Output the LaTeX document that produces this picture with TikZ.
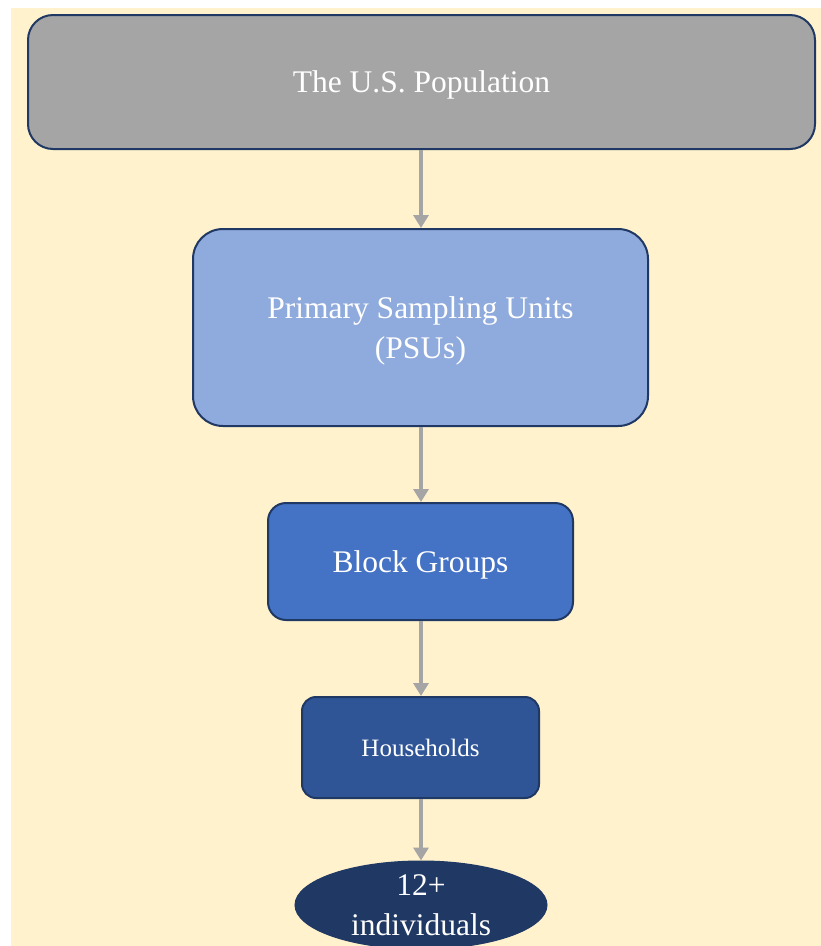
\documentclass[tikz,border=0pt]{standalone}
\usepackage{fontspec}
\setmainfont{Liberation Serif}
\usetikzlibrary{shapes.geometric,arrows.meta}
\definecolor{bgcream}{HTML}{FFF2CC}
\definecolor{navyline}{HTML}{1F3864}
\definecolor{graybox}{HTML}{A5A5A5}
\definecolor{psufill}{HTML}{8FAADC}
\definecolor{blockfill}{HTML}{4472C4}
\definecolor{housefill}{HTML}{2F5597}
\definecolor{indfill}{HTML}{203864}
\definecolor{arrowgray}{HTML}{A5A5A5}
\tikzset{
  boxstyle/.style={draw=navyline, line width=2pt, text=white, align=center,
    font=\fontsize{31.5}{40}\selectfont, inner sep=0pt},
  flowarrow/.style={draw=arrowgray, line width=4pt, -{Triangle[width=15pt,length=13pt]}}
}
\begin{document}
\begin{tikzpicture}[x=1pt,y=-1pt]
\useasboundingbox (0,0) rectangle (821,946);
\fill[bgcream] (11,8) rectangle (821,946);
\node[boxstyle, fill=graybox, rounded corners=25pt, minimum width=787pt, minimum height=134pt, text depth=-6pt] (pop) at (421.5,82) {The U.S. Population};
\node[boxstyle, fill=psufill, rounded corners=30pt, minimum width=455pt, minimum height=197pt, text depth=-6pt] (psu) at (420.5,327.5) {Primary Sampling Units\\(PSUs)};
\node[boxstyle, fill=blockfill, rounded corners=18pt, minimum width=305pt, minimum height=117pt, text depth=-6pt] (block) at (420.5,561.5) {Block Groups};
\node[boxstyle, fill=housefill, rounded corners=14pt, minimum width=237pt, minimum height=101pt, font=\fontsize{25}{30}\selectfont] (house) at (420.5,747.5) {Households};
\node[boxstyle, ellipse, fill=indfill, line width=1pt, minimum width=252pt, minimum height=88pt] (ind) at (421,905) {12+\\individuals};
\draw[flowarrow] (pop.south -| 421,0) -- (psu.north -| 421,0);
\draw[flowarrow] (psu.south -| 421,0) -- (block.north -| 421,0);
\draw[flowarrow] (block.south -| 421,0) -- (house.north -| 421,0);
\draw[flowarrow] (house.south -| 421,0) -- (ind.north -| 421,0);
\end{tikzpicture}
\end{document}
